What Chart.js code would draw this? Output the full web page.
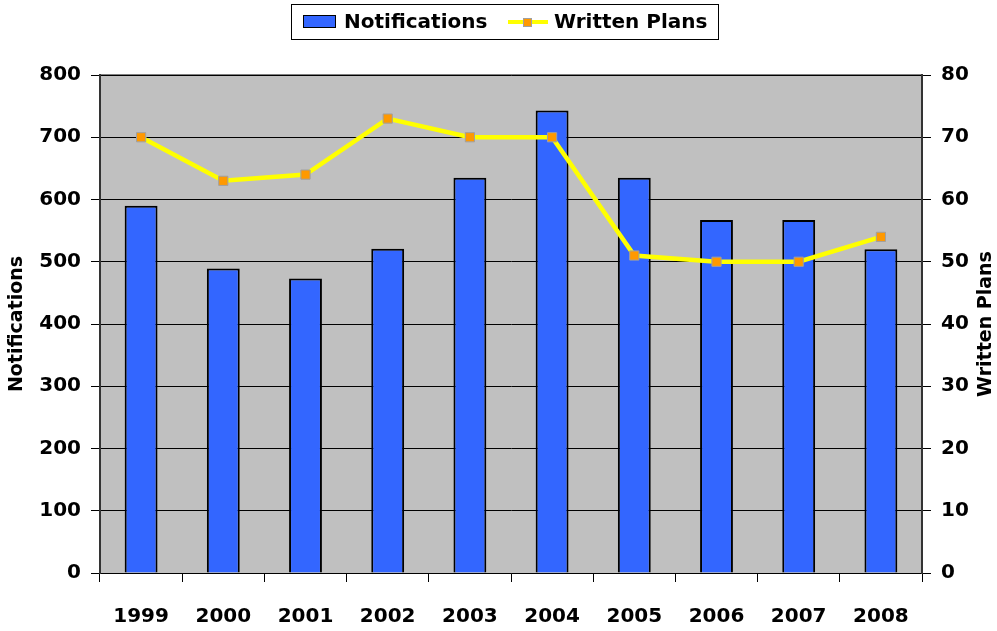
<!DOCTYPE html>
<html>
<head>
<meta charset="utf-8">
<script src="https://cdn.jsdelivr.net/npm/chart.js@4/dist/chart.umd.min.js"></script>
<style>
  html, body { margin: 0; padding: 0; background: #fff; }
  #wrap { width: 997px; height: 631px; }
</style>
</head>
<body>
<div id="wrap"><canvas id="chart" width="997" height="631"></canvas></div>
<script>
const years = ["1999", "2000", "2001", "2002", "2003", "2004", "2005", "2006", "2007", "2008"];
const notifications = [590, 489, 473, 521, 635, 743, 635, 567, 567, 520];
const writtenPlans = [70, 63, 64, 73, 70, 70, 51, 50, 50, 54];

const FONT = "'DejaVu Sans', sans-serif";
const BAR_COLOR = "#3366FF";
const LINE_COLOR = "#FFFF00";
const POINT_COLOR = "#FF9900";

// gray plot background, legend box, right axis title (reads bottom-to-top)
const decor = {
    id: "decor",
    beforeDraw(chart) {
        const ctx = chart.ctx;
        const a = chart.chartArea;
        ctx.save();
        ctx.fillStyle = "#C0C0C0";
        ctx.fillRect(a.left, a.top, a.right - a.left, a.bottom - a.top);
        ctx.strokeStyle = "#808080";
        ctx.lineWidth = 2;
        ctx.beginPath();
        ctx.moveTo(a.left, a.top);
        ctx.lineTo(a.right, a.top);
        ctx.stroke();
        ctx.restore();
    },
    afterDraw(chart) {
        const ctx = chart.ctx;
        const a = chart.chartArea;
        ctx.save();
        // legend
        ctx.fillStyle = "#fff";
        ctx.strokeStyle = "#000";
        ctx.lineWidth = 1;
        ctx.fillRect(291.5, 4.5, 427, 35);
        ctx.strokeRect(291.5, 4.5, 427, 35);
        ctx.fillStyle = BAR_COLOR;
        ctx.fillRect(303, 15, 33, 13);
        ctx.strokeRect(303.5, 15.5, 32, 12);
        ctx.font = "bold 20px " + FONT;
        ctx.fillStyle = "#000";
        ctx.textBaseline = "middle";
        ctx.textAlign = "left";
        ctx.fillText(chart.data.datasets[0].label, 344, 23);
        ctx.strokeStyle = LINE_COLOR;
        ctx.lineWidth = 4;
        ctx.beginPath();
        ctx.moveTo(508, 22);
        ctx.lineTo(548, 22);
        ctx.stroke();
        ctx.fillStyle = POINT_COLOR;
        ctx.fillRect(523, 18, 9, 9);
        ctx.strokeStyle = "#A0A0A0";
        ctx.lineWidth = 1;
        ctx.strokeRect(523.5, 18.5, 8, 8);
        ctx.fillStyle = "#000";
        ctx.fillText(chart.data.datasets[1].label, 554, 23);
        // right title
        ctx.translate(986, (a.top + a.bottom) / 2);
        ctx.rotate(-Math.PI / 2);
        ctx.textAlign = "center";
        ctx.font = "bold 19px " + FONT;
        ctx.fillText("Written Plans", 0, 0);
        ctx.restore();
    }
};

new Chart(document.getElementById("chart").getContext("2d"), {
    type: "bar",
    data: {
        labels: years,
        datasets: [{
            type: "bar",
            label: "Notifications",
            data: notifications,
            backgroundColor: BAR_COLOR,
            borderColor: "#000",
            borderWidth: 2,
            barPercentage: 0.4,
            categoryPercentage: 1,
            yAxisID: "y",
            order: 2
        }, {
            type: "line",
            label: "Written Plans",
            data: writtenPlans,
            borderColor: LINE_COLOR,
            borderWidth: 4.5,
            pointStyle: "rect",
            pointRadius: 6.5,
            pointBackgroundColor: POINT_COLOR,
            pointBorderColor: "#A0A0A0",
            pointBorderWidth: 1,
            yAxisID: "y1",
            order: 1
        }]
    },
    options: {
        responsive: false,
        animation: false,
        layout: { padding: { left: 0, right: 0, top: 75, bottom: 0 } },
        plugins: {
            tooltip: { enabled: false },
            legend: { display: false }
        },
        scales: {
            x: {
                grid: { offset: true, drawOnChartArea: false, tickLength: 9, color: "#000" },
                border: { color: "#000", width: 1 },
                ticks: { font: { family: FONT, size: 20, weight: "bold" }, color: "#000", padding: 23 },
                afterFit(scale) { scale.height = 58; }
            },
            y: {
                position: "left",
                min: 0, max: 800,
                ticks: { stepSize: 100, font: { family: FONT, size: 20, weight: "bold" }, color: "#000", padding: 10 },
                grid: { color: "#000", lineWidth: 1, tickLength: 9 },
                border: { color: "#333", width: 2 },
                title: { display: true, text: "Notifications", font: { family: FONT, size: 19, weight: "bold" }, color: "#000", padding: { top: 6, bottom: 0 } },
                afterFit(scale) { scale.width = 100; }
            },
            y1: {
                position: "right",
                min: 0, max: 80,
                ticks: { stepSize: 10, font: { family: FONT, size: 20, weight: "bold" }, color: "#000", padding: 10 },
                grid: { drawOnChartArea: false, color: "#000", tickLength: 9 },
                border: { color: "#333", width: 2 },
                afterFit(scale) { scale.width = 75; }
            }
        }
    },
    plugins: [decor]
});
</script>
</body>
</html>
